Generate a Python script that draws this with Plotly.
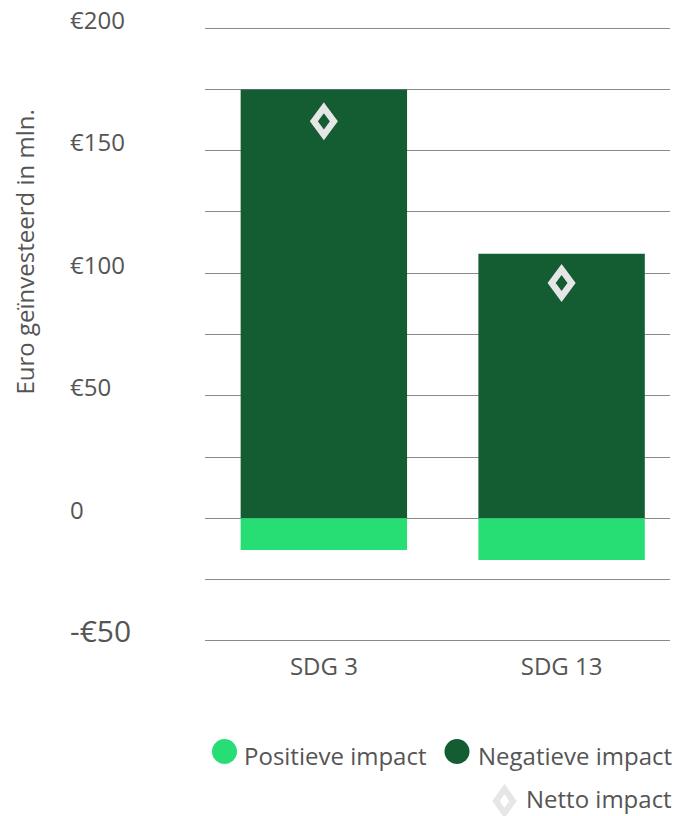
import plotly.graph_objects as go

# ---- data ----
categories = ["SDG 3", "SDG 13"]
negatieve_impact = [175, 108]
positieve_impact = [-13, -17]
netto_impact = [162, 96]
tick_values = [200, 150, 100, 50, 0, -50]
tick_labels = ["€200", "€150", "€100", "€50", "0", "-€50"]

# ---- style ----
OFF = 8  # page body margin
W, H = 687 - 2 * OFF, 816 - OFF
ML, MR, MT, MB = 205 - OFF, W - (670 - OFF), 27 - OFF, H - (642 - OFF)
PW, PH = W - ML - MR, H - MT - MB
DARK = "#145C32"
LIGHT = "#26DE74"
DIAM = "#E6E6E6"
TXT = "#555555"
FONT = "Open Sans"


def px(xpage):
    return (xpage - OFF - ML) / PW


def py(ypage):
    return (H - MB - (ypage - OFF)) / PH


DIAMOND_PATH = "M 0 13.5 L 10 0 L 0 -13.5 L -10 0 Z"

fig = go.Figure()
fig.add_trace(go.Bar(x=categories, y=negatieve_impact, name="Negatieve impact",
                     marker=dict(color=DARK, line=dict(width=0)), width=0.70,
                     showlegend=False))
fig.add_trace(go.Bar(x=categories, y=positieve_impact, name="Positieve impact",
                     marker=dict(color=LIGHT, line=dict(width=0)), width=0.70,
                     showlegend=False))
fig.add_trace(go.Scatter(x=categories, y=netto_impact, name="Netto impact", mode="markers",
                         marker=dict(symbol="diamond-tall-open", size=20,
                                     color="rgba(0,0,0,0)"),
                         showlegend=False))

shapes = []
for i, v in enumerate(netto_impact):
    shapes.append(dict(type="path", xref="x", yref="y", xsizemode="pixel", ysizemode="pixel",
                       xanchor=i, yanchor=v, path=DIAMOND_PATH,
                       line=dict(color=DIAM, width=6.5), layer="above"))

# custom legend
shapes.append(dict(type="circle", xref="paper", yref="paper", xsizemode="pixel", ysizemode="pixel",
                   xanchor=px(224.5), yanchor=py(751.5), x0=-12.5, x1=12.5, y0=-12.5, y1=12.5,
                   fillcolor=LIGHT, line=dict(width=0)))
shapes.append(dict(type="circle", xref="paper", yref="paper", xsizemode="pixel", ysizemode="pixel",
                   xanchor=px(457), yanchor=py(751.5), x0=-12.5, x1=12.5, y0=-12.5, y1=12.5,
                   fillcolor=DARK, line=dict(width=0)))
shapes.append(dict(type="path", xref="paper", yref="paper", xsizemode="pixel", ysizemode="pixel",
                   xanchor=px(504.5), yanchor=py(801), path="M 0 12 L 8.5 0 L 0 -12 L -8.5 0 Z",
                   line=dict(color=DIAM, width=6)))

annotations = []
for v, t in zip(tick_values, tick_labels):
    big = t.startswith("-")
    annotations.append(dict(xref="paper", yref="y", x=px(68), y=v, xanchor="left", yanchor="middle",
                            yshift=10 if big else 9, text=t, showarrow=False,
                            font=dict(family=FONT, size=30 if big else 24, color=TXT)))
annotations.append(dict(xref="paper", yref="paper", x=px(24), y=py(252.5), xanchor="center",
                        yanchor="middle", textangle=-90, text="Euro geïnvesteerd in mln.",
                        showarrow=False, font=dict(family=FONT, size=24, color=TXT)))
for xx, yy, t in [(242, 755, "Positieve impact"), (476, 755, "Negatieve impact"),
                  (524, 798, "Netto impact")]:
    annotations.append(dict(xref="paper", yref="paper", x=px(xx), y=py(yy), xanchor="left",
                            yanchor="middle", text=t, showarrow=False,
                            font=dict(family=FONT, size=24, color=TXT)))

fig.update_layout(
    width=W, height=H, margin=dict(l=ML, r=MR, t=MT, b=MB, pad=0),
    paper_bgcolor="white", plot_bgcolor="white",
    barmode="relative",
    font=dict(family=FONT, size=24, color=TXT),
    showlegend=False,
    xaxis=dict(type="category", range=[-0.5, 1.456], showgrid=False, zeroline=False,
               showline=False, ticks="", tickfont=dict(family=FONT, size=24, color=TXT),
               ticklabelstandoff=8),
    yaxis=dict(range=[-50.5, 200.5], dtick=25, tick0=0, showgrid=True, gridcolor="#8a8a8a",
               gridwidth=1.3, zeroline=False, showline=False, showticklabels=False, ticks=""),
    shapes=shapes, annotations=annotations,
)

fig.write_html("out.html")
